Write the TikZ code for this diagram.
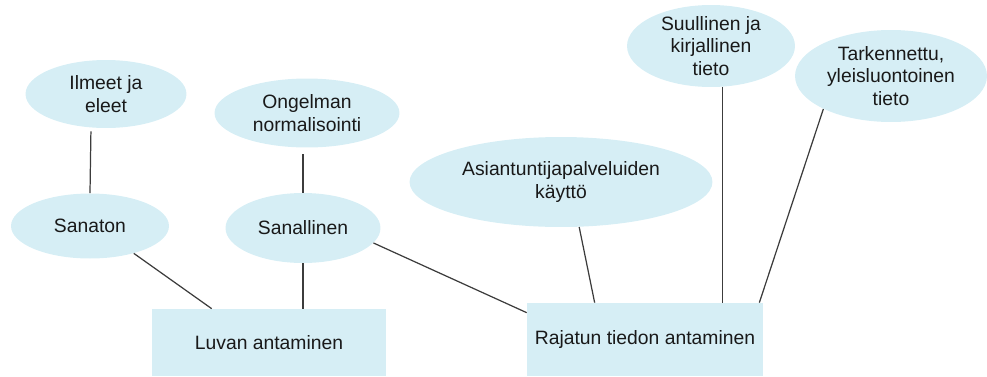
\documentclass[tikz,border=0pt]{standalone}
\usepackage{fontspec}
\setmainfont{Liberation Sans}
\usetikzlibrary{shapes.geometric}
\definecolor{vaalea}{RGB}{214,238,245}
\definecolor{viiva}{RGB}{60,60,60}
\begin{document}
\begin{tikzpicture}[x=0.02cm,y=-0.02cm,
	kupla/.style={ellipse,fill=vaalea,inner sep=0pt,align=center,text=black!90,font=\fontsize{11}{13}\selectfont},
	laatikko/.style={rectangle,fill=vaalea,inner sep=0pt,align=center,text=black!90,font=\fontsize{11}{13}\selectfont},
	yhteys/.style={draw=viiva,line width=0.7pt}]
		\useasboundingbox (0,0) rectangle (987,376);
		% ellipsit
		\node[kupla,minimum width=3.22cm,minimum height=1.36cm] (ilmeet) at (106,94) {Ilmeet ja\\eleet};
		\node[kupla,minimum width=3.7cm,minimum height=1.38cm] (ongelma) at (307,113) {Ongelman\\normalisointi};
		\node[kupla,minimum width=3.16cm,minimum height=1.3cm] (sanaton) at (90,226) {Sanaton};
		\node[kupla,minimum width=3.1cm,minimum height=1.4cm] (sanallinen) at (303,228) {Sanallinen};
		\node[kupla,minimum width=6.06cm,minimum height=1.8cm] (asiantuntija) at (561,182) {Asiantuntijapalveluiden\\käyttö};
		\node[kupla,inner ysep=-2pt,minimum width=3.36cm,minimum height=1.64cm] (suullinen) at (711,46) {Suullinen ja\\kirjallinen\\tieto};
		\node[kupla,inner ysep=-1pt,minimum width=3.84cm,minimum height=1.84cm] (tarkennettu) at (891,76) {Tarkennettu,\\yleisluontoinen\\tieto};
		% laatikot
		\node[laatikko,minimum width=4.68cm,minimum height=1.34cm] (luvan) at (269,342.5) {Luvan antaminen};
		\node[laatikko,minimum width=4.72cm,minimum height=1.46cm] (rajatun) at (645,339.5) {Rajatun tiedon antaminen};
		% viivat
		\draw[yhteys,shorten <=2pt] (ilmeet.-114) -- (sanaton.north);
		\draw[yhteys,shorten <=3.7pt] (sanallinen.north |- ongelma.south) -- (sanallinen.north);
		\draw[yhteys] (sanaton.-32) -- ([xshift=1.2cm]luvan.north west);
		\draw[yhteys] (sanallinen.south) -- (sanallinen.south |- luvan.north);
		\draw[yhteys] (sanallinen.-12) -- ([yshift=-0.2cm]rajatun.north west);
		\draw[yhteys] (asiantuntija.-68) -- ([xshift=1.36cm]rajatun.north west);
		\draw[yhteys] (suullinen.-74) -- (suullinen.-74 |- rajatun.north);
		\draw[yhteys] (tarkennettu.-154) -- ([xshift=-0.08cm]rajatun.north east);
\end{tikzpicture}
\end{document}
